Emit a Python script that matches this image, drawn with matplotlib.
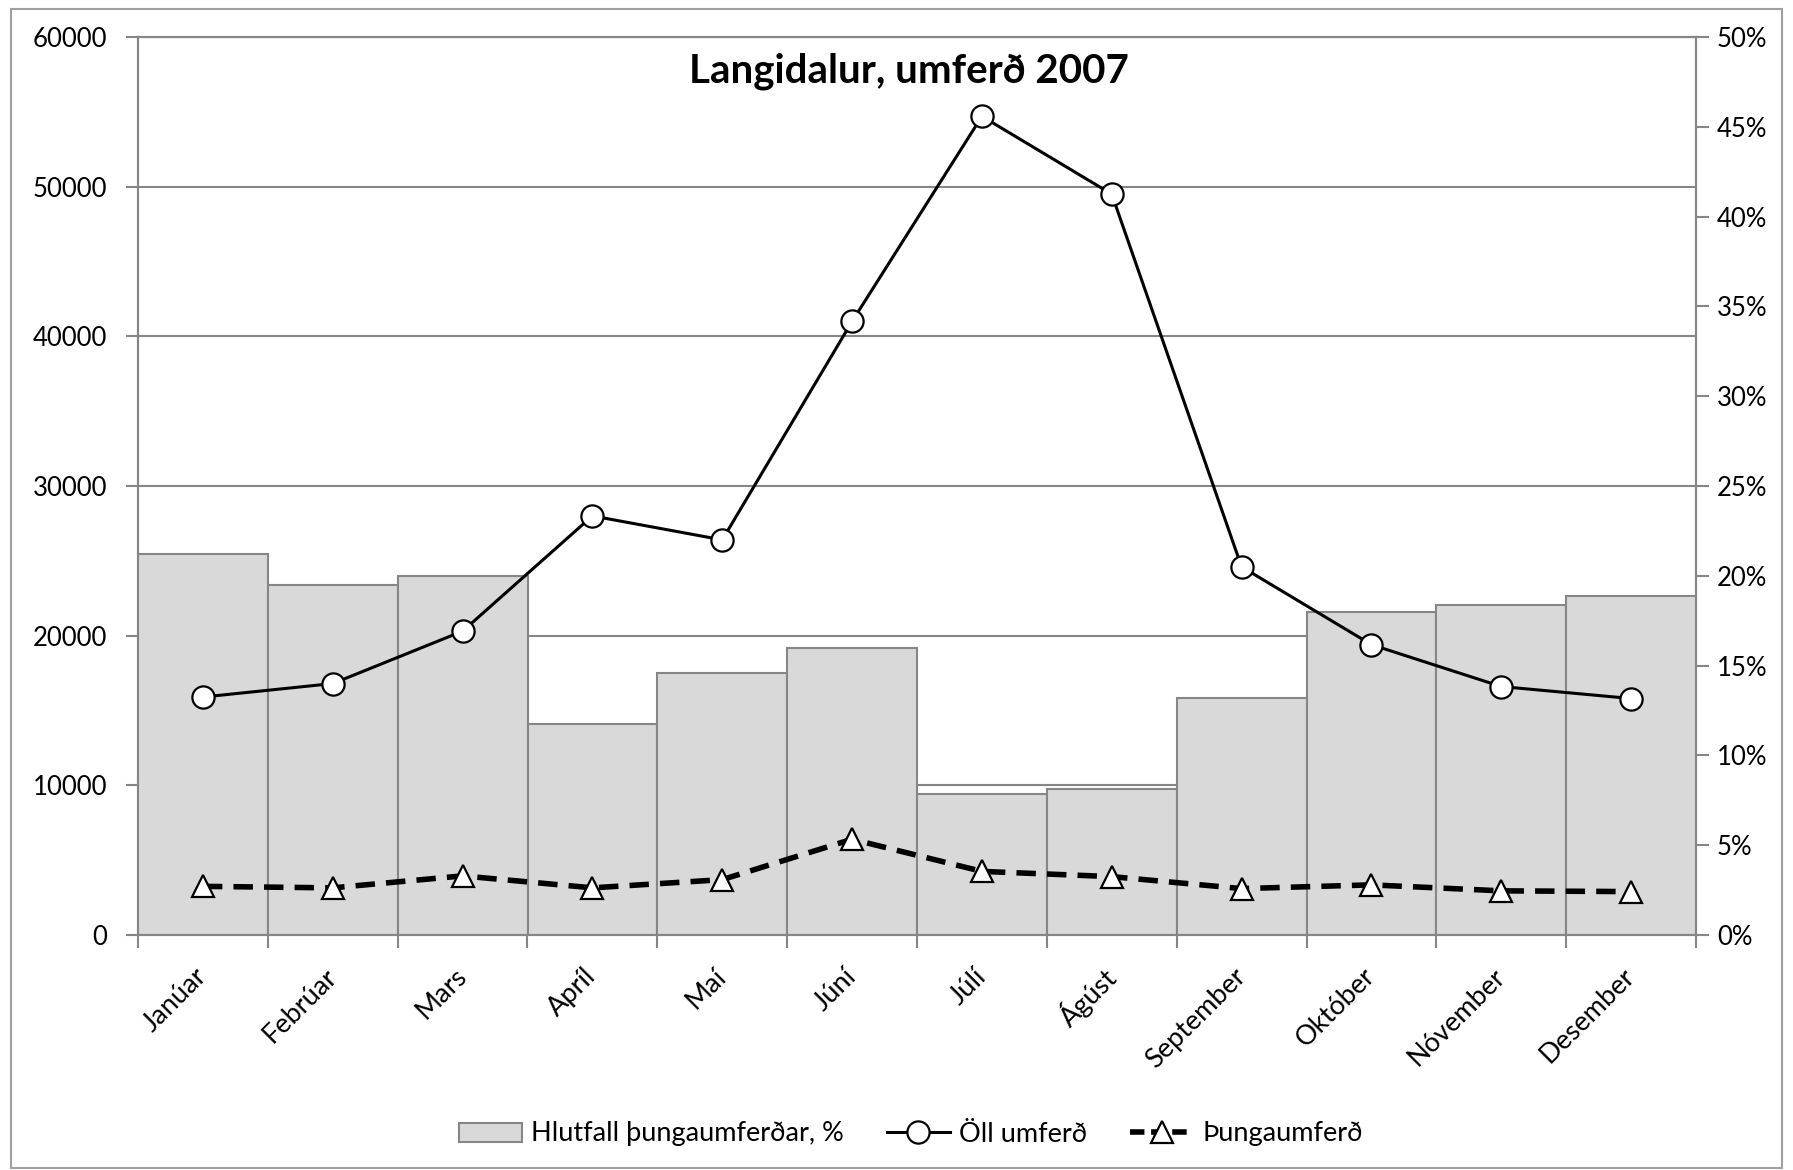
import numpy as np
import matplotlib.pyplot as plt
from matplotlib.patches import Rectangle
from matplotlib.ticker import FuncFormatter
from matplotlib.legend_handler import HandlerLine2D

plt.rcParams['font.family'] = ['Lato', 'DejaVu Sans']

months = ['Janúar', 'Febrúar', 'Mars', 'Apríl', 'Maí', 'Júní',
          'Júlí', 'Ágúst', 'September', 'Október', 'Nóvember', 'Desember']
all_traffic = [15900, 16800, 20300, 28000, 26400, 41000,
               54700, 49500, 24600, 19400, 16600, 15800]
heavy_traffic = [3250, 3150, 3950, 3150, 3700, 6400,
                 4250, 3900, 3100, 3350, 2950, 2900]
heavy_share = [21.2, 19.5, 20.0, 11.75, 14.6, 16.0,
               7.85, 8.15, 13.2, 18.0, 18.4, 18.9]

GRAY = '#868686'
x = np.arange(len(months))

fig = plt.figure(figsize=(17.93, 11.70), dpi=100)
fig.patches.append(Rectangle((0.006, 0.002), 0.988, 0.99, transform=fig.transFigure,
                             fill=False, edgecolor='#a0a0a0', lw=1.5))
ax1 = fig.add_axes([138/1793, 1 - 935/1170, (1696-138)/1793, (935-37)/1170])

# primary axis: grid + left ticks
ax1.set_ylim(0, 60000)
ax1.set_xlim(-0.5, 11.5)
ax1.set_yticks(range(0, 60001, 10000))
ax1.grid(axis='y', color=GRAY, lw=1.5)
ax1.set_axisbelow(True)
ax1.tick_params(axis='y', length=9, width=1.5, color=GRAY, labelsize=18.5, pad=13)
ax1.set_xticks(x)
ax1.set_xticklabels(months, rotation=45, ha='right', va='center',
                    rotation_mode='anchor', fontsize=19.5)
ax1.tick_params(axis='x', length=0, pad=27)
ax1.set_xticks(np.arange(-0.5, 12, 1), minor=True)
ax1.tick_params(axis='x', which='minor', length=9, width=1.5, color=GRAY)
for s in ax1.spines.values():
    s.set_color(GRAY)
    s.set_linewidth(1.5)

# secondary axis: share of heavy traffic as bars
ax2 = ax1.twinx()
bars = ax2.bar(x, heavy_share, width=1.0, color='#d9d9d9', edgecolor=GRAY, lw=1.5,
               label='Hlutfall þungaumferðar, %')
ax2.set_ylim(0, 50)
ax2.set_yticks(range(0, 51, 5))
ax2.yaxis.set_major_formatter(FuncFormatter(lambda v, p: '{:.0f}%'.format(v)))
ax2.tick_params(axis='y', length=9, width=1.5, color=GRAY, labelsize=18.5, pad=6)
for s in ax2.spines.values():
    s.set_color(GRAY)
    s.set_linewidth(1.5)

# lines on top
ax3 = ax1.twinx()
ax3.set_ylim(0, 60000)
ax3.set_yticks([])
for s in ax3.spines.values():
    s.set_visible(False)
l1, = ax3.plot(x, all_traffic, color='black', lw=2.2, marker='o', ms=16,
               mfc='white', mec='black', mew=1.6, label='Öll umferð')
l2, = ax3.plot(x, heavy_traffic, color='black', lw=4, ls=(0, (3.5, 2)), marker='^', ms=16,
               mfc='white', mec='black', mew=1.6, label='Þungaumferð')

ax3.text(0.495, 0.962, 'Langidalur, umferð 2007', transform=ax1.transAxes,
         ha='center', va='center', fontsize=29, fontweight='bold')


def short_dash(handle, orig):
    handle.update_from(orig)
    handle.set_linestyle((0, (2.6, 1.2)))


fig.legend(handles=[bars, l1, l2], loc='center', bbox_to_anchor=(911/1793, 1 - 1134/1170),
           ncol=3, frameon=False, fontsize=19.5, handlelength=2.3, columnspacing=1.6,
           handletextpad=0.35, handler_map={l2: HandlerLine2D(update_func=short_dash)})

fig.savefig('out.png', dpi=100)
